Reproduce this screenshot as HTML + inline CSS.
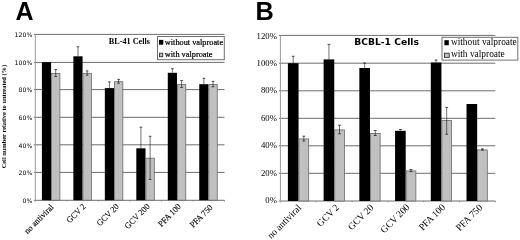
<!DOCTYPE html>
<html><head><meta charset="utf-8"><style>
html,body{margin:0;padding:0;background:#fff;width:520px;height:240px;overflow:hidden}
svg{display:block}
text{fill:#000}
.t{stroke:#000;stroke-width:0.22px}
.t2{stroke:#000;stroke-width:0.12px}
</style></head><body>
<svg width="520" height="240" viewBox="0 0 520 240">
<rect width="520" height="240" fill="#fff"/>
<text x="15.5" y="20" font-family="Liberation Sans, Arial, sans-serif" font-weight="bold" font-size="25">A</text>
<text x="255.6" y="19.7" font-family="Liberation Sans, Arial, sans-serif" font-weight="bold" font-size="25.3">B</text>
<line x1="33.8" y1="200.30" x2="224.5" y2="200.30" stroke="#6e6e6e" stroke-width="1"/>
<line x1="33.8" y1="172.40" x2="224.5" y2="172.40" stroke="#6e6e6e" stroke-width="1"/>
<line x1="33.8" y1="144.80" x2="224.5" y2="144.80" stroke="#6e6e6e" stroke-width="1"/>
<line x1="33.8" y1="117.30" x2="224.5" y2="117.30" stroke="#6e6e6e" stroke-width="1"/>
<line x1="33.8" y1="89.60" x2="224.5" y2="89.60" stroke="#6e6e6e" stroke-width="1"/>
<line x1="33.8" y1="62.40" x2="224.5" y2="62.40" stroke="#6e6e6e" stroke-width="1"/>
<line x1="33.8" y1="34.40" x2="224.5" y2="34.40" stroke="#6e6e6e" stroke-width="1"/>
<line x1="35.3" y1="34.4" x2="35.3" y2="201.79999999999998" stroke="#9a9a9a" stroke-width="1"/>
<line x1="66.83" y1="200.2" x2="66.83" y2="201.39999999999998" stroke="#6e6e6e" stroke-width="0.8"/>
<line x1="98.37" y1="200.2" x2="98.37" y2="201.39999999999998" stroke="#6e6e6e" stroke-width="0.8"/>
<line x1="129.90" y1="200.2" x2="129.90" y2="201.39999999999998" stroke="#6e6e6e" stroke-width="0.8"/>
<line x1="161.43" y1="200.2" x2="161.43" y2="201.39999999999998" stroke="#6e6e6e" stroke-width="0.8"/>
<line x1="192.97" y1="200.2" x2="192.97" y2="201.39999999999998" stroke="#6e6e6e" stroke-width="0.8"/>
<line x1="224.50" y1="200.2" x2="224.50" y2="201.39999999999998" stroke="#6e6e6e" stroke-width="0.8"/>
<rect x="41.90" y="62.20" width="9.2" height="138.00" fill="#000"/>
<rect x="51.50" y="73.50" width="8.399999999999999" height="126.70" fill="#c0c0c0" stroke="#6a6a6a" stroke-width="0.8"/>
<line x1="55.70" y1="69.50" x2="55.70" y2="76.50" stroke="#000" stroke-width="0.55"/>
<line x1="54.40" y1="69.50" x2="57.00" y2="69.50" stroke="#222" stroke-width="0.8"/>
<line x1="54.40" y1="76.50" x2="57.00" y2="76.50" stroke="#222" stroke-width="0.8"/>
<rect x="73.37" y="56.30" width="9.2" height="143.90" fill="#000"/>
<rect x="82.97" y="73.30" width="8.399999999999999" height="126.90" fill="#c0c0c0" stroke="#6a6a6a" stroke-width="0.8"/>
<line x1="77.97" y1="46.80" x2="77.97" y2="56.30" stroke="#000" stroke-width="0.55"/>
<line x1="76.67" y1="46.80" x2="79.27" y2="46.80" stroke="#222" stroke-width="0.8"/>
<line x1="87.17" y1="70.90" x2="87.17" y2="75.20" stroke="#000" stroke-width="0.55"/>
<line x1="85.87" y1="70.90" x2="88.47" y2="70.90" stroke="#222" stroke-width="0.8"/>
<line x1="85.87" y1="75.20" x2="88.47" y2="75.20" stroke="#222" stroke-width="0.8"/>
<rect x="104.84" y="88.10" width="9.2" height="112.10" fill="#000"/>
<rect x="114.44" y="81.70" width="8.399999999999999" height="118.50" fill="#c0c0c0" stroke="#6a6a6a" stroke-width="0.8"/>
<line x1="109.44" y1="81.90" x2="109.44" y2="88.10" stroke="#000" stroke-width="0.55"/>
<line x1="108.14" y1="81.90" x2="110.74" y2="81.90" stroke="#222" stroke-width="0.8"/>
<line x1="118.64" y1="79.40" x2="118.64" y2="83.20" stroke="#000" stroke-width="0.55"/>
<line x1="117.34" y1="79.40" x2="119.94" y2="79.40" stroke="#222" stroke-width="0.8"/>
<line x1="117.34" y1="83.20" x2="119.94" y2="83.20" stroke="#222" stroke-width="0.8"/>
<rect x="136.31" y="148.30" width="9.2" height="51.90" fill="#000"/>
<rect x="145.91" y="158.20" width="8.399999999999999" height="42.00" fill="#c0c0c0" stroke="#6a6a6a" stroke-width="0.8"/>
<line x1="140.91" y1="127.20" x2="140.91" y2="148.30" stroke="#000" stroke-width="0.55"/>
<line x1="139.61" y1="127.20" x2="142.21" y2="127.20" stroke="#222" stroke-width="0.8"/>
<line x1="150.11" y1="136.30" x2="150.11" y2="179.50" stroke="#000" stroke-width="0.55"/>
<line x1="148.81" y1="136.30" x2="151.41" y2="136.30" stroke="#222" stroke-width="0.8"/>
<line x1="148.81" y1="179.50" x2="151.41" y2="179.50" stroke="#222" stroke-width="0.8"/>
<rect x="167.78" y="72.80" width="9.2" height="127.40" fill="#000"/>
<rect x="177.38" y="84.60" width="8.399999999999999" height="115.60" fill="#c0c0c0" stroke="#6a6a6a" stroke-width="0.8"/>
<line x1="172.38" y1="68.70" x2="172.38" y2="72.80" stroke="#000" stroke-width="0.55"/>
<line x1="171.08" y1="68.70" x2="173.68" y2="68.70" stroke="#222" stroke-width="0.8"/>
<line x1="181.58" y1="80.50" x2="181.58" y2="87.50" stroke="#000" stroke-width="0.55"/>
<line x1="180.28" y1="80.50" x2="182.88" y2="80.50" stroke="#222" stroke-width="0.8"/>
<line x1="180.28" y1="87.50" x2="182.88" y2="87.50" stroke="#222" stroke-width="0.8"/>
<rect x="199.25" y="84.20" width="9.2" height="116.00" fill="#000"/>
<rect x="208.85" y="84.60" width="8.399999999999999" height="115.60" fill="#c0c0c0" stroke="#6a6a6a" stroke-width="0.8"/>
<line x1="203.85" y1="78.30" x2="203.85" y2="84.20" stroke="#000" stroke-width="0.55"/>
<line x1="202.55" y1="78.30" x2="205.15" y2="78.30" stroke="#222" stroke-width="0.8"/>
<line x1="213.05" y1="81.40" x2="213.05" y2="86.80" stroke="#000" stroke-width="0.55"/>
<line x1="211.75" y1="81.40" x2="214.35" y2="81.40" stroke="#222" stroke-width="0.8"/>
<line x1="211.75" y1="86.80" x2="214.35" y2="86.80" stroke="#222" stroke-width="0.8"/>
<text x="32.3" y="200.50" text-anchor="end" dominant-baseline="central" font-family="DejaVu Sans, sans-serif" font-size="6.2">0%</text>
<text x="32.3" y="172.87" text-anchor="end" dominant-baseline="central" font-family="DejaVu Sans, sans-serif" font-size="6.2">20%</text>
<text x="32.3" y="145.23" text-anchor="end" dominant-baseline="central" font-family="DejaVu Sans, sans-serif" font-size="6.2">40%</text>
<text x="32.3" y="117.60" text-anchor="end" dominant-baseline="central" font-family="DejaVu Sans, sans-serif" font-size="6.2">60%</text>
<text x="32.3" y="89.97" text-anchor="end" dominant-baseline="central" font-family="DejaVu Sans, sans-serif" font-size="6.2">80%</text>
<text x="32.3" y="62.33" text-anchor="end" dominant-baseline="central" font-family="DejaVu Sans, sans-serif" font-size="6.2">100%</text>
<text x="32.3" y="34.70" text-anchor="end" dominant-baseline="central" font-family="DejaVu Sans, sans-serif" font-size="6.2">120%</text>
<text class="t2" transform="translate(54.10,207.75) rotate(-45) scale(0.955,1)" text-anchor="end" font-family="Liberation Serif, Times New Roman, serif" font-size="8.6">no antiviral</text>
<text class="t2" transform="translate(86.20,207.10) rotate(-45) scale(0.955,1)" text-anchor="end" font-family="Liberation Serif, Times New Roman, serif" font-size="8.6">GCV 2</text>
<text class="t2" transform="translate(119.50,207.15) rotate(-45) scale(0.955,1)" text-anchor="end" font-family="Liberation Serif, Times New Roman, serif" font-size="8.6">GCV 20</text>
<text class="t2" transform="translate(150.30,207.15) rotate(-45) scale(0.955,1)" text-anchor="end" font-family="Liberation Serif, Times New Roman, serif" font-size="8.6">GCV 200</text>
<text class="t2" transform="translate(181.50,207.10) rotate(-45) scale(0.955,1)" text-anchor="end" font-family="Liberation Serif, Times New Roman, serif" font-size="8.6">PFA 100</text>
<text class="t2" transform="translate(213.25,208.05) rotate(-45) scale(0.955,1)" text-anchor="end" font-family="Liberation Serif, Times New Roman, serif" font-size="8.6">PFA 750</text>
<text transform="translate(6.4,116.6) rotate(-90)" text-anchor="middle" font-family="Liberation Serif, Times New Roman, serif" font-weight="bold" font-size="6.4">Cell number relative to untreated (%)</text>
<text x="108.8" y="44.2" font-family="Liberation Serif, Times New Roman, serif" font-weight="bold" font-size="8.2">BL-41 Cells</text>
<rect x="157.5" y="36.5" width="66.8" height="23.2" fill="#fff" stroke="#707070" stroke-width="1"/>
<rect x="159" y="39.9" width="4.3" height="4.8" fill="#000"/>
<rect x="159.45" y="53.2" width="3.3" height="3.5" fill="#c0c0c0" stroke="#333" stroke-width="0.9"/>
<text class="t" x="164.8" y="45.1" font-family="Liberation Serif, Times New Roman, serif" font-size="8.3">without valproate</text>
<text class="t" x="164.8" y="57" font-family="Liberation Serif, Times New Roman, serif" font-size="8.3">with valproate</text>
<line x1="278.9" y1="201.00" x2="495.3" y2="201.00" stroke="#6e6e6e" stroke-width="1"/>
<line x1="278.9" y1="173.30" x2="495.3" y2="173.30" stroke="#6e6e6e" stroke-width="1"/>
<line x1="278.9" y1="145.80" x2="495.3" y2="145.80" stroke="#6e6e6e" stroke-width="1"/>
<line x1="278.9" y1="118.30" x2="495.3" y2="118.30" stroke="#6e6e6e" stroke-width="1"/>
<line x1="278.9" y1="90.80" x2="495.3" y2="90.80" stroke="#6e6e6e" stroke-width="1"/>
<line x1="278.9" y1="63.20" x2="495.3" y2="63.20" stroke="#6e6e6e" stroke-width="1"/>
<line x1="278.9" y1="35.40" x2="495.3" y2="35.40" stroke="#6e6e6e" stroke-width="1"/>
<line x1="280.4" y1="35.4" x2="280.4" y2="202.6" stroke="#9a9a9a" stroke-width="1"/>
<line x1="316.22" y1="201.0" x2="316.22" y2="202.2" stroke="#6e6e6e" stroke-width="0.8"/>
<line x1="352.03" y1="201.0" x2="352.03" y2="202.2" stroke="#6e6e6e" stroke-width="0.8"/>
<line x1="387.85" y1="201.0" x2="387.85" y2="202.2" stroke="#6e6e6e" stroke-width="0.8"/>
<line x1="423.67" y1="201.0" x2="423.67" y2="202.2" stroke="#6e6e6e" stroke-width="0.8"/>
<line x1="459.48" y1="201.0" x2="459.48" y2="202.2" stroke="#6e6e6e" stroke-width="0.8"/>
<line x1="495.30" y1="201.0" x2="495.30" y2="202.2" stroke="#6e6e6e" stroke-width="0.8"/>
<rect x="287.90" y="63.20" width="10.65" height="137.80" fill="#000"/>
<rect x="298.95" y="138.90" width="9.75" height="62.10" fill="#c0c0c0" stroke="#6a6a6a" stroke-width="0.8"/>
<line x1="293.22" y1="56.30" x2="293.22" y2="63.20" stroke="#000" stroke-width="0.55"/>
<line x1="291.82" y1="56.30" x2="294.62" y2="56.30" stroke="#222" stroke-width="0.8"/>
<line x1="303.82" y1="136.20" x2="303.82" y2="141.00" stroke="#000" stroke-width="0.55"/>
<line x1="302.42" y1="136.20" x2="305.22" y2="136.20" stroke="#222" stroke-width="0.8"/>
<line x1="302.42" y1="141.00" x2="305.22" y2="141.00" stroke="#222" stroke-width="0.8"/>
<rect x="323.62" y="59.40" width="10.65" height="141.60" fill="#000"/>
<rect x="334.67" y="129.90" width="9.75" height="71.10" fill="#c0c0c0" stroke="#6a6a6a" stroke-width="0.8"/>
<line x1="328.94" y1="44.40" x2="328.94" y2="59.40" stroke="#000" stroke-width="0.55"/>
<line x1="327.55" y1="44.40" x2="330.34" y2="44.40" stroke="#222" stroke-width="0.8"/>
<line x1="339.54" y1="125.20" x2="339.54" y2="133.80" stroke="#000" stroke-width="0.55"/>
<line x1="338.14" y1="125.20" x2="340.94" y2="125.20" stroke="#222" stroke-width="0.8"/>
<line x1="338.14" y1="133.80" x2="340.94" y2="133.80" stroke="#222" stroke-width="0.8"/>
<rect x="359.34" y="68.00" width="10.65" height="133.00" fill="#000"/>
<rect x="370.39" y="133.40" width="9.75" height="67.60" fill="#c0c0c0" stroke="#6a6a6a" stroke-width="0.8"/>
<line x1="364.66" y1="63.00" x2="364.66" y2="68.00" stroke="#000" stroke-width="0.55"/>
<line x1="363.26" y1="63.00" x2="366.06" y2="63.00" stroke="#222" stroke-width="0.8"/>
<line x1="375.26" y1="130.50" x2="375.26" y2="135.50" stroke="#000" stroke-width="0.55"/>
<line x1="373.86" y1="130.50" x2="376.66" y2="130.50" stroke="#222" stroke-width="0.8"/>
<line x1="373.86" y1="135.50" x2="376.66" y2="135.50" stroke="#222" stroke-width="0.8"/>
<rect x="395.06" y="130.80" width="10.65" height="70.20" fill="#000"/>
<rect x="406.11" y="170.90" width="9.75" height="30.10" fill="#c0c0c0" stroke="#6a6a6a" stroke-width="0.8"/>
<line x1="400.38" y1="129.50" x2="400.38" y2="130.80" stroke="#000" stroke-width="0.55"/>
<line x1="398.98" y1="129.50" x2="401.78" y2="129.50" stroke="#222" stroke-width="0.8"/>
<line x1="410.98" y1="169.50" x2="410.98" y2="171.60" stroke="#000" stroke-width="0.55"/>
<line x1="409.58" y1="169.50" x2="412.38" y2="169.50" stroke="#222" stroke-width="0.8"/>
<line x1="409.58" y1="171.60" x2="412.38" y2="171.60" stroke="#222" stroke-width="0.8"/>
<rect x="430.78" y="62.50" width="10.65" height="138.50" fill="#000"/>
<rect x="441.83" y="120.40" width="9.75" height="80.60" fill="#c0c0c0" stroke="#6a6a6a" stroke-width="0.8"/>
<line x1="436.10" y1="60.00" x2="436.10" y2="62.50" stroke="#000" stroke-width="0.55"/>
<line x1="434.70" y1="60.00" x2="437.50" y2="60.00" stroke="#222" stroke-width="0.8"/>
<line x1="446.70" y1="107.40" x2="446.70" y2="134.20" stroke="#000" stroke-width="0.55"/>
<line x1="445.30" y1="107.40" x2="448.10" y2="107.40" stroke="#222" stroke-width="0.8"/>
<line x1="445.30" y1="134.20" x2="448.10" y2="134.20" stroke="#222" stroke-width="0.8"/>
<rect x="466.50" y="104.00" width="10.65" height="97.00" fill="#000"/>
<rect x="477.55" y="149.90" width="9.75" height="51.10" fill="#c0c0c0" stroke="#6a6a6a" stroke-width="0.8"/>
<line x1="482.42" y1="148.90" x2="482.42" y2="150.10" stroke="#000" stroke-width="0.55"/>
<line x1="481.02" y1="148.90" x2="483.82" y2="148.90" stroke="#222" stroke-width="0.8"/>
<line x1="481.02" y1="150.10" x2="483.82" y2="150.10" stroke="#222" stroke-width="0.8"/>
<text x="276.9" y="200.30" text-anchor="end" dominant-baseline="central" font-family="Liberation Serif, serif" font-size="8.7">0%</text>
<text x="276.9" y="172.84" text-anchor="end" dominant-baseline="central" font-family="Liberation Serif, serif" font-size="8.7">20%</text>
<text x="276.9" y="145.38" text-anchor="end" dominant-baseline="central" font-family="Liberation Serif, serif" font-size="8.7">40%</text>
<text x="276.9" y="117.92" text-anchor="end" dominant-baseline="central" font-family="Liberation Serif, serif" font-size="8.7">60%</text>
<text x="276.9" y="90.46" text-anchor="end" dominant-baseline="central" font-family="Liberation Serif, serif" font-size="8.7">80%</text>
<text x="276.9" y="63.00" text-anchor="end" dominant-baseline="central" font-family="Liberation Serif, serif" font-size="8.7">100%</text>
<text x="276.9" y="35.54" text-anchor="end" dominant-baseline="central" font-family="Liberation Serif, serif" font-size="8.7">120%</text>
<text class="t0" transform="translate(301.90,208.50) rotate(-45) scale(0.97,1)" text-anchor="end" font-family="Liberation Serif, Times New Roman, serif" font-size="9.8">no antiviral</text>
<text class="t0" transform="translate(339.70,208.10) rotate(-45) scale(0.97,1)" text-anchor="end" font-family="Liberation Serif, Times New Roman, serif" font-size="9.8">GCV 2</text>
<text class="t0" transform="translate(374.16,208.20) rotate(-45) scale(0.97,1)" text-anchor="end" font-family="Liberation Serif, Times New Roman, serif" font-size="9.8">GCV 20</text>
<text class="t0" transform="translate(410.14,207.85) rotate(-45) scale(0.97,1)" text-anchor="end" font-family="Liberation Serif, Times New Roman, serif" font-size="9.8">GCV 200</text>
<text class="t0" transform="translate(445.82,207.85) rotate(-45) scale(0.97,1)" text-anchor="end" font-family="Liberation Serif, Times New Roman, serif" font-size="9.8">PFA 100</text>
<text class="t0" transform="translate(483.05,208.20) rotate(-45) scale(0.97,1)" text-anchor="end" font-family="Liberation Serif, Times New Roman, serif" font-size="9.8">PFA 750</text>
<text x="354.2" y="45.2" font-family="DejaVu Sans, Verdana, sans-serif" font-weight="bold" font-size="9.2">BCBL-1 Cells</text>
<rect x="442" y="37.3" width="75.8" height="22.8" fill="#fff" stroke="#707070" stroke-width="1"/>
<rect x="444.4" y="40.2" width="4.4" height="5.0" fill="#000"/>
<rect x="444.5" y="53.2" width="4.7" height="4.2" fill="#c0c0c0" stroke="#333" stroke-width="0.9"/>
<text x="450.9" y="45.3" font-family="Liberation Serif, Times New Roman, serif" font-size="9.4">without valproate</text>
<text x="450.9" y="56.6" font-family="Liberation Serif, Times New Roman, serif" font-size="9.4">with valproate</text>
</svg>
</body></html>
